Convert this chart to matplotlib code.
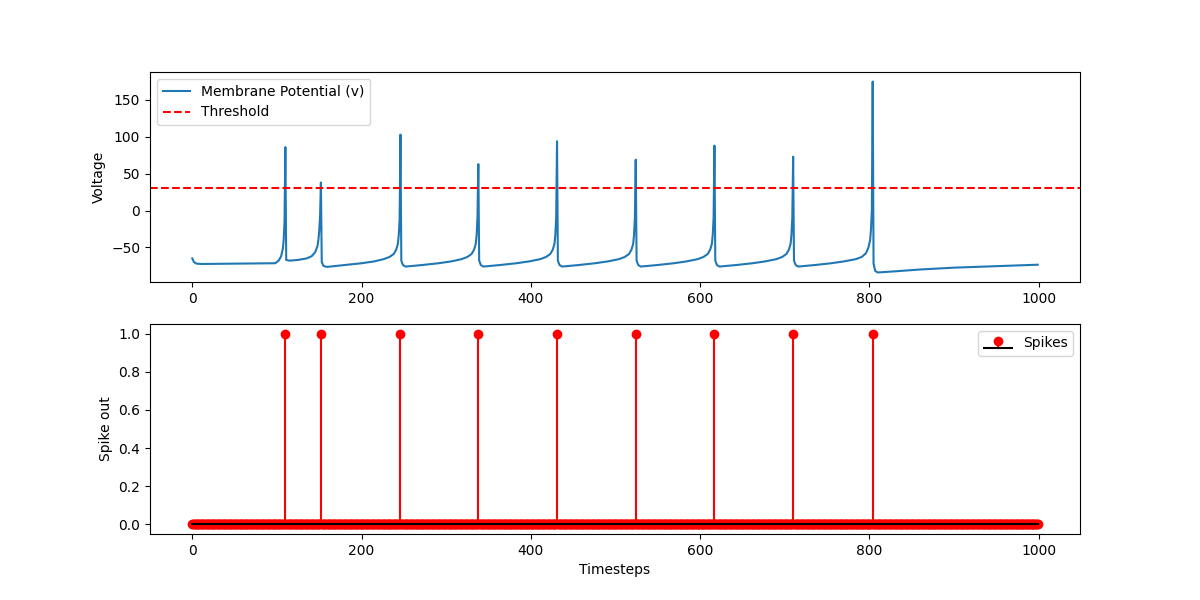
import numpy as np
import matplotlib
matplotlib.use("Agg")
import matplotlib.pyplot as plt

# Membrane potential trace: (timestep, voltage) points
v_times = [
    0, 2, 5, 10, 50, 98, 102, 105, 107, 108, 109, 110,
    111, 115, 125, 135, 141, 145, 148, 149, 150, 151, 152,
    153, 155, 159, 180, 200, 215, 226, 233, 238, 241, 243, 244, 245, 246,
    247, 249, 252, 271, 291, 306, 318, 325, 330, 333, 335, 336, 337, 338,
    339, 341, 344, 363, 383, 398, 411, 418, 423, 426, 428, 429, 430, 431,
    432, 434, 437, 456, 476, 491, 504, 511, 516, 519, 521, 522, 523, 524,
    525, 527, 530, 549, 569, 584, 597, 604, 609, 612, 614, 615, 616, 617,
    618, 620, 623, 642, 662, 677, 690, 697, 702, 705, 707, 708, 709, 710,
    711, 713, 716, 735, 755, 770, 784, 791, 796, 799, 801, 802, 803, 804,
    805, 807, 810, 830, 860, 900, 950, 999,
]
v_values = [
    -65, -70, -72, -72.5, -72, -71.5, -68, -62, -52, -40, -15, 86,
    -67, -68, -67, -65, -62, -57, -48, -40, -28, -8, 38,
    -70, -75, -76.5, -74, -71.5, -69, -66, -63, -59, -53, -45, -33, -12, 103,
    -68, -74, -76, -74, -71.5, -69, -66, -63, -59, -53, -45, -33, -10, 63,
    -68, -74, -76, -74, -71.5, -69, -66, -63, -59, -53, -45, -33, -10, 94,
    -68, -74, -76, -74, -71.5, -69, -66, -63, -59, -53, -45, -33, -10, 69,
    -68, -74, -76, -74, -71.5, -69, -66, -63, -59, -53, -45, -33, -10, 88,
    -68, -74, -76, -74, -71.5, -69, -66, -63, -59, -53, -45, -33, -10, 73,
    -68, -74, -76, -74, -71.5, -69, -66, -63, -58, -50, -40, -25, 0, 175,
    -72, -82, -84, -82.5, -80, -77.5, -75.5, -73.5,
]
threshold = 30

# Spike output
n_steps = 1000
spike_steps = [110, 152, 246, 338, 431, 524, 617, 710, 804]

timesteps = np.arange(n_steps)
spikes = np.zeros(n_steps)
spikes[spike_steps] = 1

fig, (ax1, ax2) = plt.subplots(2, 1, figsize=(12, 6), dpi=100)

ax1.plot(v_times, v_values, label="Membrane Potential (v)")
ax1.axhline(threshold, color="r", linestyle="--", label="Threshold")
ax1.set_ylabel("Voltage")
ax1.legend(loc="upper left")

ax2.stem(timesteps, spikes, linefmt="r-", markerfmt="ro", basefmt="k-", label="Spikes")
ax2.set_xlabel("Timesteps")
ax2.set_ylabel("Spike out")
ax2.legend(loc="upper right")

fig.savefig("out.png")
